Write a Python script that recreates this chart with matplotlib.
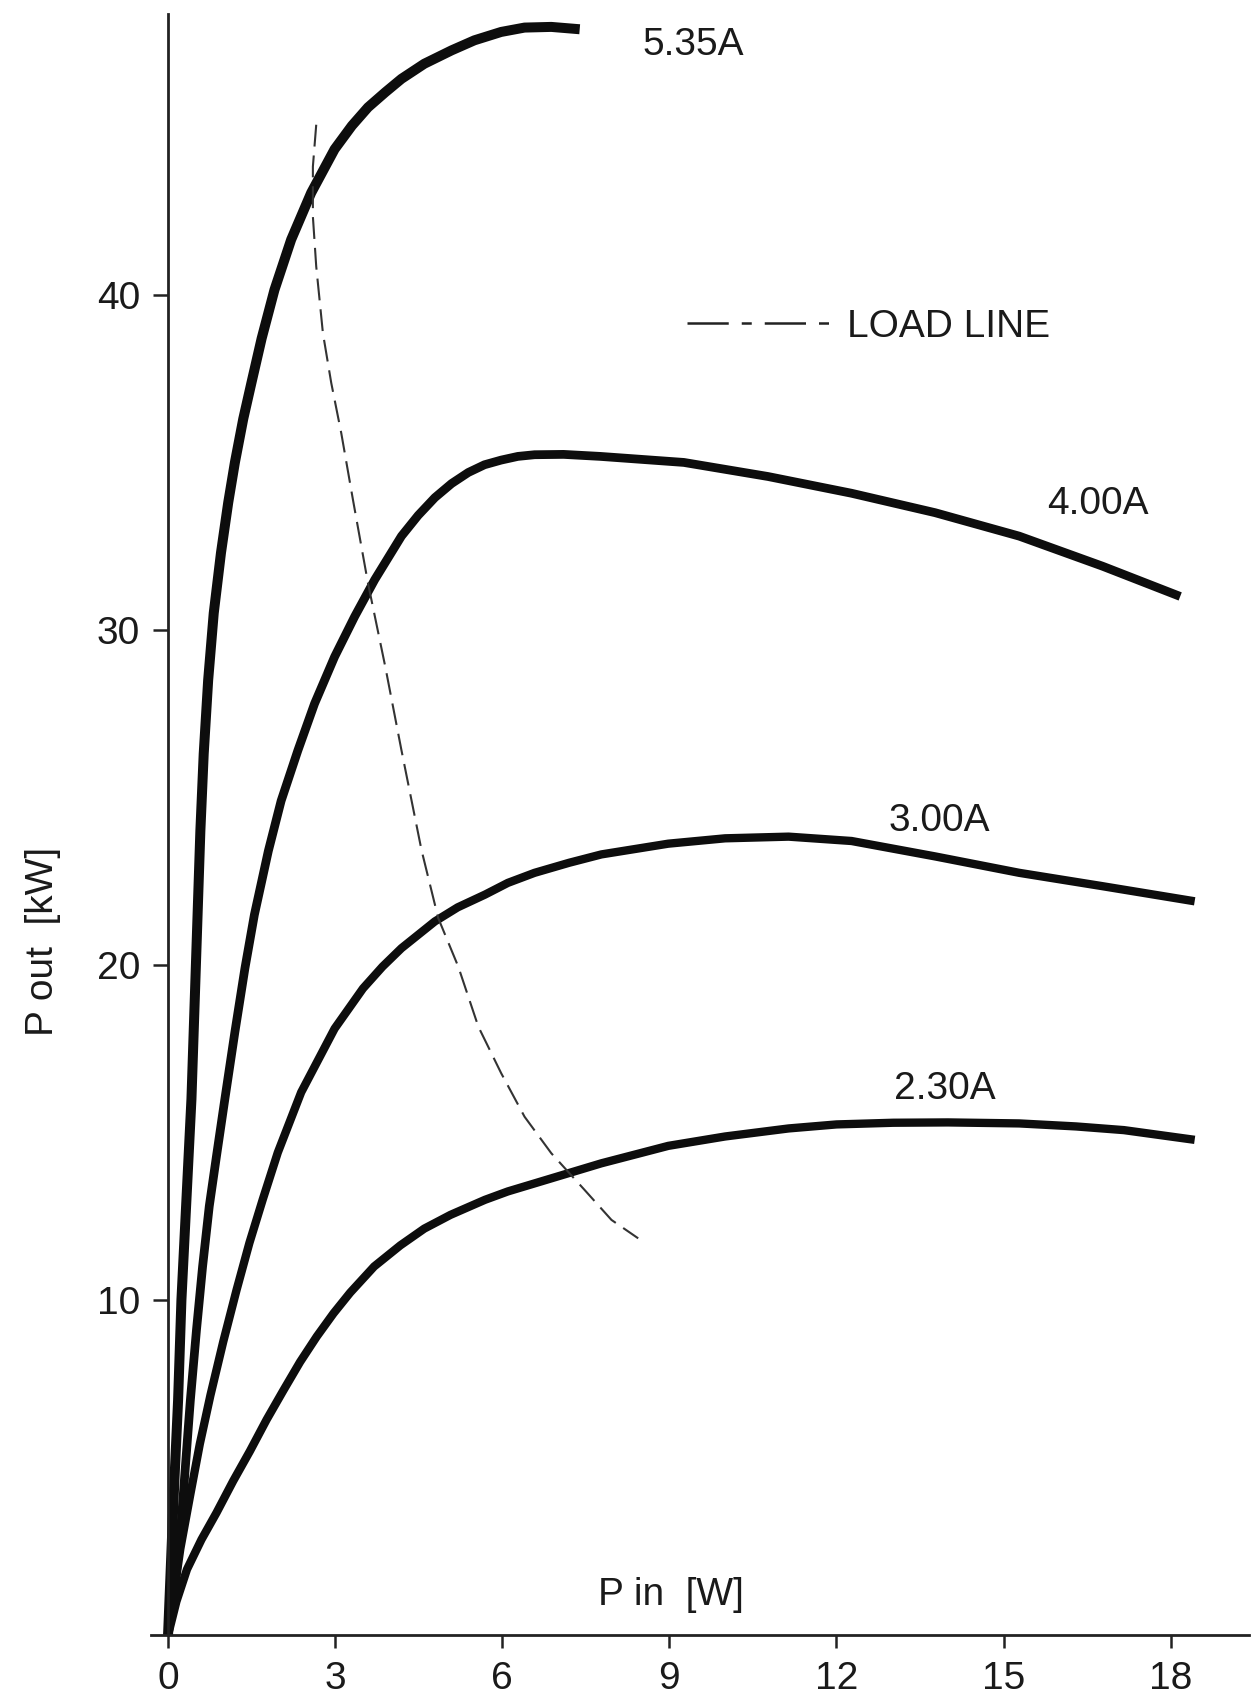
import matplotlib.pyplot as plt
from matplotlib.lines import Line2D
from matplotlib.transforms import blended_transform_factory

plt.rcParams['font.family'] = ['Liberation Sans', 'DejaVu Sans']

# curvas P out [kW] vs P in [W] para cada corriente
x_535 = [0, 0.1, 0.18, 0.24, 0.33, 0.42, 0.48, 0.53, 0.58, 0.64, 0.72, 0.82, 0.95, 1.08, 1.2,
         1.35, 1.5, 1.68, 1.91, 2.21, 2.57, 2.99, 3.3, 3.59, 3.9, 4.19, 4.6, 5.09, 5.5, 5.98,
         6.4, 6.88, 7.39]
y_535 = [0, 4.1, 7.0, 10.0, 13.0, 16.0, 19.0, 21.5, 24.0, 26.3, 28.5, 30.5, 32.3, 33.8, 35.0,
         36.3, 37.4, 38.7, 40.15, 41.65, 43.05, 44.35, 45.05, 45.6, 46.05, 46.45, 46.9, 47.3, 47.6, 47.85,
         47.98, 48.0, 47.93]

x_400 = [0, 0.12, 0.22, 0.31, 0.40, 0.51, 0.62, 0.74, 0.87, 1.02, 1.2, 1.38, 1.55, 1.8, 2.03, 2.33,
         2.63, 2.99, 3.35, 3.71, 4.19, 4.49, 4.79, 5.09, 5.39, 5.68, 5.98, 6.28, 6.58, 7.1, 7.76,
         9.26, 10.77, 12.27, 13.77, 15.28, 16.78, 18.17]
y_400 = [0, 1.4, 3.0, 5.0, 7.0, 9.1, 11.0, 12.8, 14.3, 16.0, 18.0, 19.9, 21.5, 23.4, 24.9, 26.4,
         27.8, 29.2, 30.4, 31.5, 32.8, 33.42, 33.95, 34.37, 34.7, 34.93, 35.07, 35.18, 35.23, 35.24, 35.18,
         35.0, 34.58, 34.08, 33.5, 32.8, 31.9, 31.0]

x_300 = [0, 0.22, 0.40, 0.57, 0.76, 0.99, 1.23, 1.46, 1.70, 1.97, 2.39, 2.99, 3.5, 3.85, 4.19, 4.79,
         5.2, 5.69, 6.1, 6.58, 7.2, 7.78, 8.98, 10.0, 11.14, 12.27, 13.77, 15.28, 16.78, 18.43]
y_300 = [0, 2.57, 4.2, 5.7, 7.15, 8.75, 10.3, 11.7, 13.0, 14.4, 16.2, 18.1, 19.3, 19.95, 20.5, 21.3,
         21.72, 22.1, 22.45, 22.75, 23.05, 23.3, 23.62, 23.78, 23.83, 23.7, 23.24, 22.75, 22.35, 21.9]

x_230 = [0, 0.15, 0.34, 0.6, 0.87, 1.17, 1.47, 1.77, 2.07, 2.37, 2.67, 2.97, 3.27, 3.7, 4.17, 4.6,
         5.07, 5.4, 5.69, 6.1, 6.58, 7.78, 8.98, 10.0, 11.14, 12.0, 13.02, 14.0, 15.28, 16.3, 17.16, 18.43]
y_230 = [0, 1.0, 1.96, 2.85, 3.65, 4.6, 5.49, 6.43, 7.3, 8.15, 8.91, 9.6, 10.22, 11.0, 11.63, 12.13,
         12.54, 12.78, 12.99, 13.24, 13.48, 14.08, 14.6, 14.88, 15.12, 15.24, 15.29, 15.3, 15.27, 15.18, 15.07, 14.78]

# linea de carga
x_carga = [2.66, 2.60, 2.60, 2.66, 2.78, 2.93, 3.11, 3.32, 3.59, 3.9, 4.19, 4.55, 4.85, 5.21, 5.57,
           5.98, 6.40, 6.88, 7.48, 7.96, 8.44]
y_carga = [45.08, 43.83, 42.34, 40.85, 38.86, 37.37, 35.87, 33.88, 31.39, 28.9, 26.41, 23.43, 21.4,
           19.95, 18.16, 16.77, 15.47, 14.38, 13.28, 12.39, 11.84]

etiquetas = ['5.35A', '4.00A', '3.00A', '2.30A']
etiqueta_x = [9.43, 16.7, 13.85, 13.95]
etiqueta_y = [47.46, 33.75, 24.3, 16.3]

x_ticks = [0, 3, 6, 9, 12, 15, 18]
y_ticks = [10, 20, 30, 40]

fig = plt.figure(figsize=(12.57, 16.97), dpi=100)
ax = fig.add_axes([0.1204, 0.03654, 0.873, 0.9555])

color_texto = '#1a1a1a'
curvas = [(x_535, y_535, 7.2), (x_400, y_400, 6.3), (x_300, y_300, 6.0), (x_230, y_230, 6.0)]
for xs, ys, grosor in curvas:
    ax.plot(xs, ys, color='#0d0d0d', lw=grosor, solid_capstyle='butt', solid_joinstyle='round')

ax.plot(x_carga, y_carga, color='#333333', lw=1.5, dashes=(10.5, 4.3))

for txt, tx, ty in zip(etiquetas, etiqueta_x, etiqueta_y):
    ax.text(tx, ty, txt, fontsize=28, ha='center', va='center', color=color_texto)

# leyenda de la linea de carga
handle = Line2D([], [], color='#222222', lw=1.8, dashes=(16.5, 5.2, 4.0, 5.2))
ax.legend(handles=[handle], labels=['LOAD LINE'], loc='center left',
          bbox_to_anchor=(9.32, 39.04), bbox_transform=ax.transData,
          frameon=False, fontsize=28, handlelength=3.83, handletextpad=0.28,
          borderpad=0, borderaxespad=0, labelcolor=color_texto)

ax.set_xlim(-0.3, 19.4)
ax.set_ylim(0, 48.4)
ax.spines['top'].set_visible(False)
ax.spines['right'].set_visible(False)
ax.spines['left'].set_position(('data', 0))
for s in ['left', 'bottom']:
    ax.spines[s].set_linewidth(2)
    ax.spines[s].set_color('#222222')

ax.set_xticks(x_ticks)
ax.set_yticks(y_ticks)
ax.tick_params(axis='x', length=9, width=1.8, pad=10, labelsize=28, colors='#222222', labelcolor=color_texto)
ax.tick_params(axis='y', length=11, width=1.8, pad=9, labelsize=28, colors='#222222', labelcolor=color_texto)

ax.text(9.03, 1.2, 'P in  [W]', fontsize=28, ha='center', va='center', color=color_texto)
trans = blended_transform_factory(fig.transFigure, ax.transData)
ax.text(0.034, 20.7, 'P out  [kW]', fontsize=28, ha='center', va='center', rotation=90,
        color=color_texto, transform=trans)

plt.savefig('out.png', dpi=100)
